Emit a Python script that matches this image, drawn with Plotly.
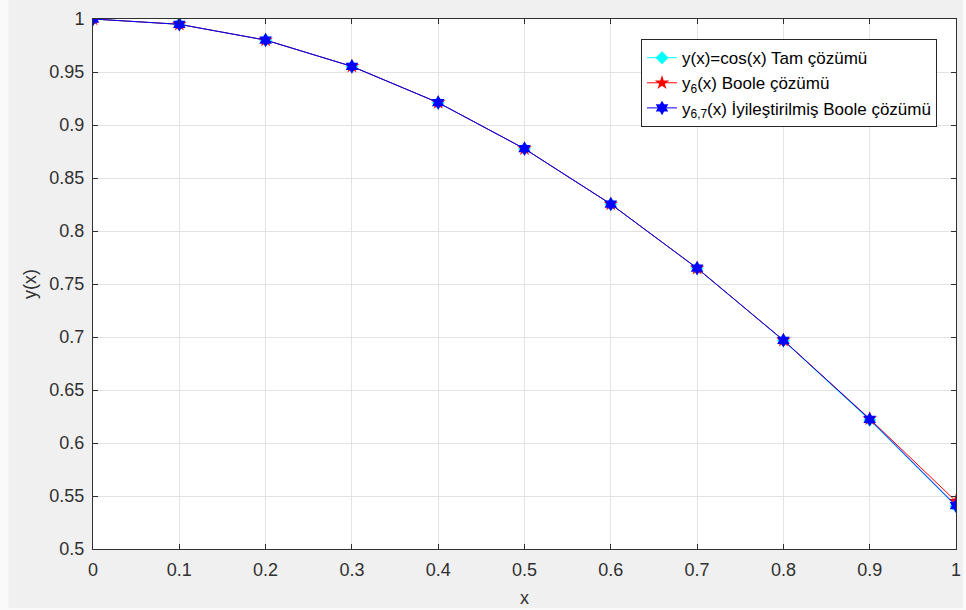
import plotly.graph_objects as go

# Grid points
x_vals = [0.0, 0.1, 0.2, 0.3, 0.4, 0.5, 0.6, 0.7, 0.8, 0.9, 1.0]

# Exact solution y(x) = cos(x)
y_exact = [1.0000, 0.9950, 0.9801, 0.9553, 0.9211, 0.8776, 0.8253, 0.7648, 0.6967, 0.6216, 0.5403]
# Boole solution y_6(x)
y_boole = [1.0000, 0.9950, 0.9801, 0.9553, 0.9211, 0.8776, 0.8254, 0.7649, 0.6970, 0.6228, 0.5450]
# Improved Boole solution y_6,7(x)
y_improved = [1.0000, 0.9950, 0.9801, 0.9553, 0.9211, 0.8776, 0.8254, 0.7649, 0.6969, 0.6224, 0.5409]

x_ticks = [0, 0.1, 0.2, 0.3, 0.4, 0.5, 0.6, 0.7, 0.8, 0.9, 1]
x_tick_text = ["0", "0.1", "0.2", "0.3", "0.4", "0.5", "0.6", "0.7", "0.8", "0.9", "1"]
y_ticks = [0.5, 0.55, 0.6, 0.65, 0.7, 0.75, 0.8, 0.85, 0.9, 0.95, 1]
y_tick_text = ["0.5", "0.55", "0.6", "0.65", "0.7", "0.75", "0.8", "0.85", "0.9", "0.95", "1"]

FONT = "Liberation Sans, Arial, sans-serif"
AX_COLOR = "#303030"

W, H = 966, 610
ML, MR, MT, MB = 93, 5, 19, 61
PW, PH = W - ML - MR, H - MT - MB


def px_to_paper_x(px):
    return (px - ML) / PW


def px_to_paper_y(py):
    return (H - MB - py) / PH


fig = go.Figure()
fig.add_trace(go.Scatter(
    x=x_vals, y=y_exact, mode="lines+markers",
    name="y(x)=cos(x) Tam çözümü",
    line=dict(color="#00ffff", width=1),
    marker=dict(symbol="diamond", size=10, color="#00ffff"),
))
fig.add_trace(go.Scatter(
    x=x_vals, y=y_boole, mode="lines+markers",
    name="y<sub>6</sub>(x) Boole çözümü",
    line=dict(color="#ff0000", width=1),
    marker=dict(symbol="star", size=11, color="#ff0000"),
))
fig.add_trace(go.Scatter(
    x=x_vals, y=y_improved, mode="lines+markers",
    name="y<sub>6,7</sub>(x) İyileştirilmiş Boole çözümü",
    line=dict(color="#0000ff", width=1),
    marker=dict(symbol="hexagram", size=11, color="#0000ff"),
))

axis_common = dict(
    showline=True, linecolor=AX_COLOR, linewidth=1, mirror="ticks",
    ticks="inside", ticklen=5, tickcolor=AX_COLOR, tickwidth=1,
    showgrid=True, gridcolor="#e3e3e3", gridwidth=1,
    zeroline=False, ticklabeloverflow="allow",
    tickfont=dict(family=FONT, size=18, color=AX_COLOR),
)

fig.update_xaxes(
    range=[0, 1], tickvals=x_ticks, ticktext=x_tick_text,
    ticklabelstandoff=4,
    title=dict(text="x", font=dict(family=FONT, size=18, color=AX_COLOR), standoff=12),
    **axis_common,
)
fig.update_yaxes(
    range=[0.5, 1], tickvals=y_ticks, ticktext=y_tick_text,
    ticklabelstandoff=4,
    title=dict(text="y(x)", font=dict(family=FONT, size=18, color=AX_COLOR), standoff=8),
    **axis_common,
)

# Figure frame: gray window area with a thin light border on the left and bottom,
# and a white axes box on top of it
fig.add_shape(
    type="rect", xref="paper", yref="paper", layer="below",
    x0=px_to_paper_x(8), x1=px_to_paper_x(W + 2),
    y0=px_to_paper_y(608), y1=px_to_paper_y(-2),
    fillcolor="#f0f0f0", line=dict(width=0),
)
fig.add_shape(
    type="rect", xref="paper", yref="paper", layer="below",
    x0=0, x1=1, y0=0, y1=1,
    fillcolor="#ffffff", line=dict(width=0),
)

fig.update_layout(
    width=W, height=H,
    margin=dict(l=ML, r=MR, t=MT, b=MB),
    paper_bgcolor="#fafafa",
    plot_bgcolor="#ffffff",
    font=dict(family=FONT, size=18, color="#000000"),
    legend=dict(
        x=0.978, y=0.962, xanchor="right", yanchor="top",
        bgcolor="#ffffff", bordercolor="#262626", borderwidth=1,
        font=dict(family=FONT, size=17, color="#000000"),
        tracegroupgap=0,
    ),
    showlegend=True,
)

fig.write_html("out.html")
